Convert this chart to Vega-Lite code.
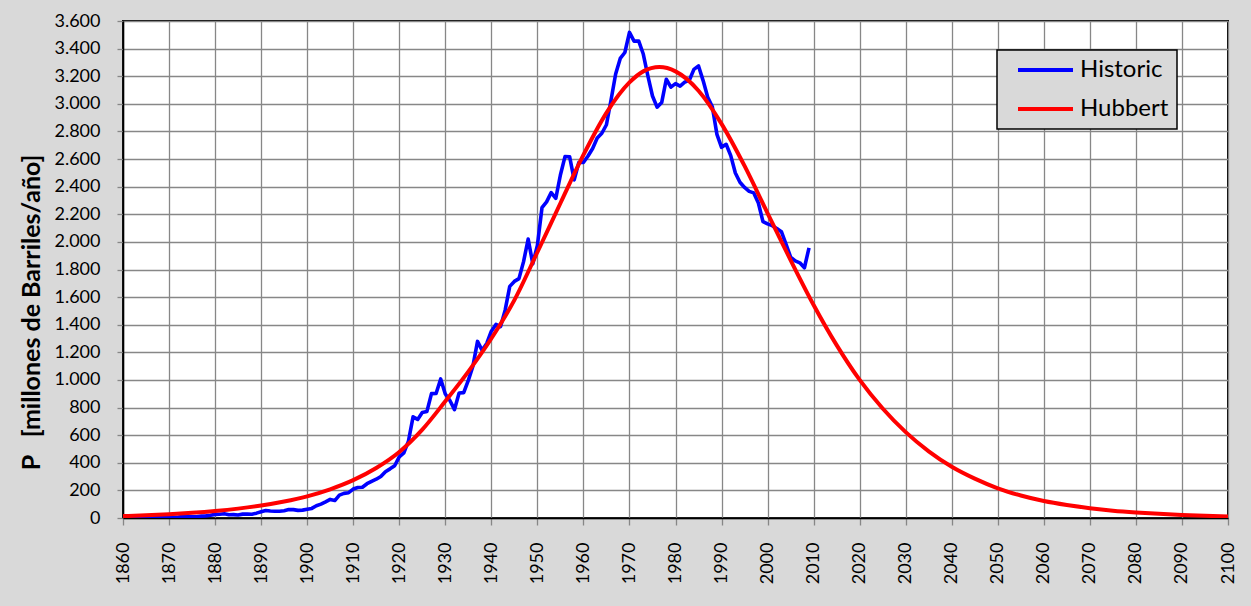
{
  "$schema": "https://vega.github.io/schema/vega-lite/v6.json",
  "width": 1105,
  "height": 497,
  "autosize": {"type": "none"},
  "padding": {"left": 123, "top": 21, "right": 23, "bottom": 88},
  "background": "#d9d9d9",
  "datasets": {
    "historic": [
      {"year":1860,"P":0.5},{"year":1861,"P":2.1},{"year":1862,"P":3.1},{"year":1863,"P":2.6},{"year":1864,"P":2.1},
      {"year":1865,"P":2.5},{"year":1866,"P":3.6},{"year":1867,"P":3.3},{"year":1868,"P":3.6},{"year":1869,"P":4.2},
      {"year":1870,"P":5.3},{"year":1871,"P":5.2},{"year":1872,"P":6.3},{"year":1873,"P":9.9},{"year":1874,"P":10.9},
      {"year":1875,"P":8.8},{"year":1876,"P":9.1},{"year":1877,"P":13.4},{"year":1878,"P":15.4},{"year":1879,"P":19.9},
      {"year":1880,"P":26.3},{"year":1881,"P":27.7},{"year":1882,"P":30.3},{"year":1883,"P":23.4},{"year":1884,"P":24.2},
      {"year":1885,"P":21.9},{"year":1886,"P":28.1},{"year":1887,"P":28.3},{"year":1888,"P":27.6},{"year":1889,"P":35.2},
      {"year":1890,"P":45.8},{"year":1891,"P":54.3},{"year":1892,"P":50.5},{"year":1893,"P":48.4},{"year":1894,"P":49.3},
      {"year":1895,"P":52.9},{"year":1896,"P":60.9},{"year":1897,"P":60.5},{"year":1898,"P":55.4},{"year":1899,"P":57.1},
      {"year":1900,"P":63.6},{"year":1901,"P":69.4},{"year":1902,"P":88.8},{"year":1903,"P":100.5},{"year":1904,"P":117.1},
      {"year":1905,"P":134.7},{"year":1906,"P":126.5},{"year":1907,"P":166.1},{"year":1908,"P":178.5},{"year":1909,"P":183.2},
      {"year":1910,"P":209.6},{"year":1911,"P":220.4},{"year":1912,"P":222.9},{"year":1913,"P":248.4},{"year":1914,"P":265.8},
      {"year":1915,"P":281.1},{"year":1916,"P":300.8},{"year":1917,"P":335.3},{"year":1918,"P":355.9},{"year":1919,"P":378.4},
      {"year":1920,"P":442.9},{"year":1921,"P":472.2},{"year":1922,"P":557.5},{"year":1923,"P":732.4},{"year":1924,"P":713.9},
      {"year":1925,"P":763.7},{"year":1926,"P":770.9},{"year":1927,"P":901.1},{"year":1928,"P":901.5},{"year":1929,"P":1007.3},
      {"year":1930,"P":898.0},{"year":1931,"P":851.1},{"year":1932,"P":785.2},{"year":1933,"P":905.7},{"year":1934,"P":908.1},
      {"year":1935,"P":996.6},{"year":1936,"P":1099.7},{"year":1937,"P":1279.2},{"year":1938,"P":1214.4},{"year":1939,"P":1264.9},
      {"year":1940,"P":1353.2},{"year":1941,"P":1402.2},{"year":1942,"P":1386.6},{"year":1943,"P":1505.6},{"year":1944,"P":1677.9},
      {"year":1945,"P":1713.7},{"year":1946,"P":1733.9},{"year":1947,"P":1857.0},{"year":1948,"P":2020.2},{"year":1949,"P":1841.9},
      {"year":1950,"P":1973.6},{"year":1951,"P":2247.7},{"year":1952,"P":2289.8},{"year":1953,"P":2357.1},{"year":1954,"P":2315.0},
      {"year":1955,"P":2484.4},{"year":1956,"P":2617.3},{"year":1957,"P":2616.9},{"year":1958,"P":2449.0},{"year":1959,"P":2574.6},
      {"year":1960,"P":2574.9},{"year":1961,"P":2621.8},{"year":1962,"P":2676.2},{"year":1963,"P":2752.7},{"year":1964,"P":2786.8},
      {"year":1965,"P":2848.5},{"year":1966,"P":3027.8},{"year":1967,"P":3215.7},{"year":1968,"P":3329.0},{"year":1969,"P":3371.8},
      {"year":1970,"P":3517.5},{"year":1971,"P":3453.9},{"year":1972,"P":3455.4},{"year":1973,"P":3360.9},{"year":1974,"P":3202.6},
      {"year":1975,"P":3056.8},{"year":1976,"P":2976.2},{"year":1977,"P":3009.3},{"year":1978,"P":3178.2},{"year":1979,"P":3121.3},
      {"year":1980,"P":3146.4},{"year":1981,"P":3128.6},{"year":1982,"P":3156.7},{"year":1983,"P":3171.0},{"year":1984,"P":3249.7},
      {"year":1985,"P":3274.6},{"year":1986,"P":3168.3},{"year":1987,"P":3047.4},{"year":1988,"P":2979.1},{"year":1989,"P":2778.8},
      {"year":1990,"P":2684.7},{"year":1991,"P":2707.0},{"year":1992,"P":2624.6},{"year":1993,"P":2499.0},{"year":1994,"P":2431.5},
      {"year":1995,"P":2394.3},{"year":1996,"P":2366.0},{"year":1997,"P":2354.8},{"year":1998,"P":2281.9},{"year":1999,"P":2146.7},
      {"year":2000,"P":2130.7},{"year":2001,"P":2117.5},{"year":2002,"P":2097.1},{"year":2003,"P":2073.5},{"year":2004,"P":1983.3},
      {"year":2005,"P":1890.1},{"year":2006,"P":1862.3},{"year":2007,"P":1848.5},{"year":2008,"P":1812.5},{"year":2009,"P":1957.3}
    ],
    "hubbert": [
      {"year":1860,"P":14},{"year":1865,"P":20},{"year":1870,"P":28},{"year":1875,"P":38},{"year":1880,"P":51},
      {"year":1885,"P":68},{"year":1890,"P":90},{"year":1895,"P":119},{"year":1900,"P":157},{"year":1905,"P":208},
      {"year":1910,"P":274},{"year":1915,"P":362},{"year":1920,"P":478},{"year":1925,"P":640},{"year":1930,"P":845},
      {"year":1935,"P":1060},{"year":1940,"P":1300},{"year":1945,"P":1578},{"year":1950,"P":1925},{"year":1955,"P":2280},
      {"year":1960,"P":2630},{"year":1965,"P":2935},{"year":1970,"P":3155},{"year":1973,"P":3235},{"year":1976.5,"P":3266},
      {"year":1980,"P":3235},{"year":1985,"P":3095},{"year":1990,"P":2855},{"year":1995,"P":2550},{"year":2000,"P":2207},
      {"year":2005,"P":1868},{"year":2010,"P":1543},{"year":2015,"P":1252},{"year":2020,"P":1000},{"year":2025,"P":793},
      {"year":2030,"P":622},{"year":2035,"P":483},{"year":2040,"P":371},{"year":2045,"P":285},{"year":2050,"P":215},
      {"year":2055,"P":163},{"year":2060,"P":123},{"year":2065,"P":94},{"year":2070,"P":71},{"year":2075,"P":53},
      {"year":2080,"P":40},{"year":2085,"P":30},{"year":2090,"P":22},{"year":2095,"P":16},{"year":2100,"P":11}
    ]
  },
  "layer": [
    {
      "data": {"name": "historic"},
      "mark": {"type": "line", "strokeWidth": 3.6, "strokeJoin": "round", "clip": true},
      "encoding": {
        "x": {"field": "year", "type": "quantitative"},
        "y": {"field": "P", "type": "quantitative"},
        "color": {"datum": "Historic", "type": "nominal"}
      }
    },
    {
      "data": {"name": "hubbert"},
      "mark": {"type": "line", "strokeWidth": 4, "interpolate": "monotone", "clip": true},
      "encoding": {
        "x": {"field": "year", "type": "quantitative"},
        "y": {"field": "P", "type": "quantitative"},
        "color": {"datum": "Hubbert", "type": "nominal"}
      }
    }
  ],
  "encoding": {
    "x": {
      "field": "year", "type": "quantitative",
      "scale": {"domain": [1860, 2100], "nice": false, "zero": false},
      "axis": {
        "title": null,
        "values": [1860,1870,1880,1890,1900,1910,1920,1930,1940,1950,1960,1970,1980,1990,2000,2010,2020,2030,2040,2050,2060,2070,2080,2090,2100],
        "format": "d",
        "labelAngle": -90,
        "labelAlign": "right",
        "labelBaseline": "middle",
        "labelPadding": 17,
        "tickSize": 7,
        "labelFlush": false,
        "labelOverlap": false
      }
    },
    "y": {
      "field": "P", "type": "quantitative",
      "scale": {"domain": [0, 3600], "nice": false},
      "axis": {
        "title": "P\u00a0\u00a0\u00a0[millones de Barriles/año]",
        "values": [0,200,400,600,800,1000,1200,1400,1600,1800,2000,2200,2400,2600,2800,3000,3200,3400,3600],
        "labelExpr": "replace(format(datum.value, ','), ',', '.')",
        "tickSize": 6,
        "labelPadding": 17,
        "labelFlush": false,
        "labelOverlap": false,
        "titleAngle": 270,
        "titleAlign": "center",
        "titleBaseline": "middle",
        "titleX": -92,
        "titleY": 291,
        "titleFont": "Lato",
        "titleFontSize": 25,
        "titleFontWeight": "bold",
        "titleColor": "black"
      }
    },
    "color": {
      "type": "nominal",
      "scale": {"domain": ["Historic", "Hubbert"], "range": ["#0000ff", "#ff0000"]},
      "legend": {
        "title": null,
        "orient": "none",
        "legendX": 874,
        "legendY": 29,
        "direction": "vertical",
        "fillColor": "#d9d9d9",
        "strokeColor": "black",
        "padding": 8,
        "symbolType": "stroke",
        "symbolSize": 3025,
        "symbolStrokeWidth": 4,
        "symbolOffset": 11,
        "clipHeight": 24,
        "labelFont": "Lato",
        "labelFontSize": 24,
        "labelColor": "black",
        "labelOffset": 5,
        "labelExpr": "datum.label + '\u00a0\u00a0\u00a0'",
        "rowPadding": 15
      }
    }
  },
  "config": {
    "view": {"fill": "white", "stroke": "black", "strokeWidth": 2},
    "font": "Lato",
    "legend": {"strokeWidth": 1.5},
    "axis": {
      "grid": true,
      "gridColor": "#878787",
      "gridWidth": 1.3,
      "gridOpacity": 1,
      "tickColor": "#878787",
      "tickWidth": 1.3,
      "domainColor": "black",
      "domainWidth": 1.5,
      "labelFont": "Lato",
      "labelFontSize": 18,
      "labelColor": "black"
    }
  }
}
